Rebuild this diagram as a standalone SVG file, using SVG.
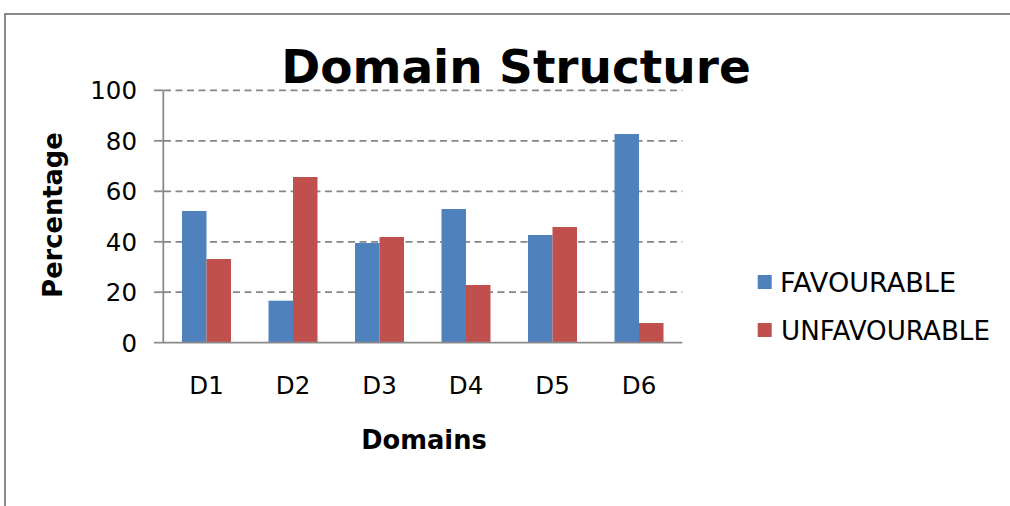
<svg xmlns="http://www.w3.org/2000/svg" width="1010" height="506" viewBox="0 0 1010 506">
<style>
.t{font-family:"DejaVu Sans","Liberation Sans",sans-serif;fill:#000}
.tick{font-size:24.5px;text-anchor:end}
.cat{font-size:24.5px;text-anchor:middle}
.leg{font-size:26px}
.grid{stroke:#868686;stroke-width:1.8;stroke-dasharray:7 4.5;fill:none}
.axis{stroke:#8a8a8a;stroke-width:1.8;fill:none}
.fav{fill:#4F81BD}
.unf{fill:#C0504D}
</style>
<rect x="0" y="0" width="1010" height="506" fill="#fff"/>
<path d="M5,506 V14 H1012" fill="none" stroke="#8a8a8a" stroke-width="2"/>
<text id="title" class="t" x="516" y="83" font-size="47" font-weight="bold" text-anchor="middle">Domain Structure</text>
<g id="gridlines">
<line class="grid" x1="164" y1="90.3" x2="682.3" y2="90.3"/>
<line class="grid" x1="164" y1="140.8" x2="682.3" y2="140.8"/>
<line class="grid" x1="164" y1="191.3" x2="682.3" y2="191.3"/>
<line class="grid" x1="164" y1="241.8" x2="682.3" y2="241.8"/>
<line class="grid" x1="164" y1="292.2" x2="682.3" y2="292.2"/>
</g>
<g id="bars">
<rect class="fav" x="182" y="211" width="24.5" height="131.7"/>
<rect class="unf" x="206.5" y="259" width="24.5" height="83.7"/>
<rect class="fav" x="268.5" y="300.7" width="24.5" height="42"/>
<rect class="unf" x="293" y="177" width="24.5" height="165.7"/>
<rect class="fav" x="355" y="243" width="24.5" height="99.7"/>
<rect class="unf" x="379.5" y="237" width="24.5" height="105.7"/>
<rect class="fav" x="441.5" y="209" width="24.5" height="133.7"/>
<rect class="unf" x="466" y="285" width="24.5" height="57.7"/>
<rect class="fav" x="528" y="235" width="24.5" height="107.7"/>
<rect class="unf" x="552.5" y="227" width="24.5" height="115.7"/>
<rect class="fav" x="614.5" y="134" width="24.5" height="208.7"/>
<rect class="unf" x="639" y="323" width="24.5" height="19.7"/>
</g>
<g id="axes">
<line class="axis" x1="163.3" y1="90.3" x2="163.3" y2="342.7"/>
<line class="axis" x1="154" y1="342.7" x2="682.3" y2="342.7"/>
<line class="axis" x1="154" y1="90.3" x2="163.3" y2="90.3"/>
<line class="axis" x1="154" y1="140.8" x2="163.3" y2="140.8"/>
<line class="axis" x1="154" y1="191.3" x2="163.3" y2="191.3"/>
<line class="axis" x1="154" y1="241.8" x2="163.3" y2="241.8"/>
<line class="axis" x1="154" y1="292.2" x2="163.3" y2="292.2"/>
</g>
<g id="y-labels">
<text class="t tick" x="137" y="99.2">100</text>
<text class="t tick" x="137" y="149.7">80</text>
<text class="t tick" x="137" y="200.2">60</text>
<text class="t tick" x="137" y="250.7">40</text>
<text class="t tick" x="137" y="301.1">20</text>
<text class="t tick" x="137" y="351.6">0</text>
</g>
<g id="x-labels">
<text class="t cat" x="206.5" y="394">D1</text>
<text class="t cat" x="293" y="394">D2</text>
<text class="t cat" x="379.5" y="394">D3</text>
<text class="t cat" x="466" y="394">D4</text>
<text class="t cat" x="552.5" y="394">D5</text>
<text class="t cat" x="639" y="394">D6</text>
</g>
<text id="x-title" class="t" x="424" y="449" font-size="25.7" font-weight="bold" text-anchor="middle">Domains</text>
<text id="y-title" class="t" transform="translate(62,215) rotate(-90)" font-size="25.7" font-weight="bold" text-anchor="middle">Percentage</text>
<g id="legend">
<rect class="fav" x="757.7" y="275" width="14" height="14"/>
<text class="t leg" x="780" y="291.7" textLength="176" lengthAdjust="spacingAndGlyphs">FAVOURABLE</text>
<rect class="unf" x="757.7" y="323" width="14" height="14"/>
<text class="t leg" x="781" y="340" textLength="209" lengthAdjust="spacingAndGlyphs">UNFAVOURABLE</text>
</g>
</svg>
